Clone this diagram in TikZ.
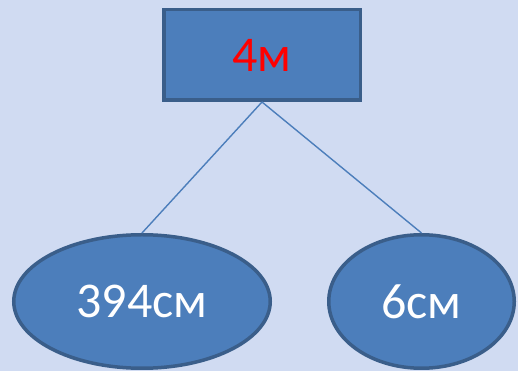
\documentclass[tikz,border=0pt]{standalone}
\usepackage{fontspec}
\setmainfont{Carlito}
\usetikzlibrary{shapes.geometric,positioning}
\definecolor{bgblue}{RGB}{208,219,242}
\definecolor{boxblue}{RGB}{76,126,187}
\definecolor{rimblue}{RGB}{58,94,138}
\tikzset{top node/.style={rectangle,fill=boxblue,draw=rimblue,line width=3.5pt,minimum width=196.5pt,minimum height=90.5pt,inner sep=0pt,text=red},
         part node/.style={ellipse,fill=boxblue,draw=rimblue,line width=3.5pt,minimum height=133.5pt,inner sep=0pt,text=white},
         link/.style={draw=boxblue,line width=1.4pt}
}

\begin{document}
\begin{tikzpicture}[x=1pt,y=1pt,
font=\fontsize{50}{60}\selectfont]

\fill[bgblue] (0,0) rectangle (518,371);
\useasboundingbox (0,0) rectangle (518,371);

\node [top node] (whole) at (262,316) {4м};
\node [part node,minimum width=256.5pt] (left) at (142,69.5) {394см};
\node [part node,minimum width=185.5pt] (right) at (421.5,69.5) {6см};

\draw[link] (whole.south) -- (left.north);
\draw[link] (whole.south) -- (right.north);
\end{tikzpicture}
\end{document}
